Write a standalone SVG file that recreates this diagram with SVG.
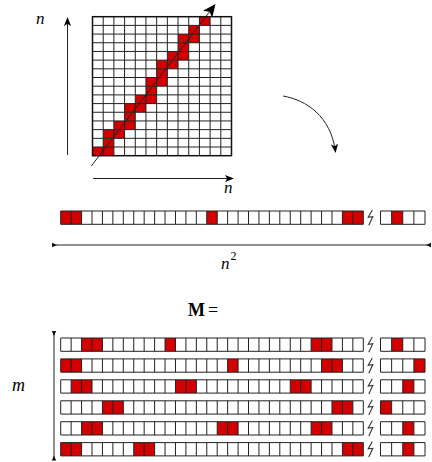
<svg xmlns="http://www.w3.org/2000/svg" xmlns:xlink="http://www.w3.org/1999/xlink" width="432" height="462" viewBox="0 0 432 462">
<style>
.red{fill:#d20000}
.ln{fill:none;stroke:#222;stroke-width:1}
.ax{fill:none;stroke:#222;stroke-width:1}
.lbl{font-family:"Liberation Serif","DejaVu Serif",serif;font-style:italic;fill:#000}
.brk{fill:none;stroke:#333;stroke-width:1.1}
.tri{fill:#111}
</style>
<defs>
<marker id="ah" viewBox="0 0 10 10" refX="9" refY="5" markerWidth="9" markerHeight="9" orient="auto" markerUnits="userSpaceOnUse"><path d="M0,1 L10,5 L0,9 L2.5,5 Z" fill="#000"/></marker>
<marker id="ahBig" viewBox="0 0 10 10" refX="9" refY="5" markerWidth="13" markerHeight="13" orient="auto" markerUnits="userSpaceOnUse"><path d="M0,0.5 L10,5 L0,9.5 L2.5,5 Z" fill="#000"/></marker>
<path id="cells" class="ln" d="M60.7,0H363.3V13.3H60.7Z M71.13,0V13.3 M81.57,0V13.3 M92,0V13.3 M102.44,0V13.3 M112.87,0V13.3 M123.3,0V13.3 M133.74,0V13.3 M144.17,0V13.3 M154.61,0V13.3 M165.04,0V13.3 M175.47,0V13.3 M185.91,0V13.3 M196.34,0V13.3 M206.78,0V13.3 M217.21,0V13.3 M227.64,0V13.3 M238.08,0V13.3 M248.51,0V13.3 M258.95,0V13.3 M269.38,0V13.3 M279.81,0V13.3 M290.25,0V13.3 M300.68,0V13.3 M311.12,0V13.3 M321.55,0V13.3 M331.98,0V13.3 M342.42,0V13.3 M352.85,0V13.3"/>
<path id="cells4" class="ln" d="M380.5,0H425V13.3H380.5Z M391.63,0V13.3 M402.75,0V13.3 M413.88,0V13.3"/>
<path id="brk" class="brk" d="M372.3,-1 L368.2,6.3 L372.8,5.7 L368.8,14.3"/>
</defs>

<g id="grid">
<rect x="92.5" y="16.7" width="139" height="139" fill="#fff"/>
<rect class="red" x="199.42" y="16.7" width="10.69" height="8.69"/>
<rect class="red" x="188.73" y="25.39" width="10.69" height="8.69"/>
<rect class="red" x="178.04" y="34.08" width="21.38" height="8.69"/>
<rect class="red" x="178.04" y="42.76" width="10.69" height="8.69"/>
<rect class="red" x="167.35" y="51.45" width="21.38" height="8.69"/>
<rect class="red" x="156.65" y="60.14" width="21.38" height="8.69"/>
<rect class="red" x="156.65" y="68.83" width="10.69" height="8.69"/>
<rect class="red" x="145.96" y="77.51" width="21.38" height="8.69"/>
<rect class="red" x="145.96" y="86.2" width="10.69" height="8.69"/>
<rect class="red" x="135.27" y="94.89" width="21.38" height="8.69"/>
<rect class="red" x="124.58" y="103.58" width="21.38" height="8.69"/>
<rect class="red" x="124.58" y="112.26" width="10.69" height="8.69"/>
<rect class="red" x="113.88" y="120.95" width="21.38" height="8.69"/>
<rect class="red" x="103.19" y="129.64" width="21.38" height="8.69"/>
<rect class="red" x="103.19" y="138.33" width="10.69" height="8.69"/>
<rect class="red" x="92.5" y="147.01" width="21.38" height="8.69"/>
<path class="ln" d="M103.19,16.7V155.7 M113.88,16.7V155.7 M124.58,16.7V155.7 M135.27,16.7V155.7 M145.96,16.7V155.7 M156.65,16.7V155.7 M167.35,16.7V155.7 M178.04,16.7V155.7 M188.73,16.7V155.7 M199.42,16.7V155.7 M210.12,16.7V155.7 M220.81,16.7V155.7 M92.5,25.39H231.5 M92.5,34.08H231.5 M92.5,42.76H231.5 M92.5,51.45H231.5 M92.5,60.14H231.5 M92.5,68.83H231.5 M92.5,77.51H231.5 M92.5,86.2H231.5 M92.5,94.89H231.5 M92.5,103.58H231.5 M92.5,112.26H231.5 M92.5,120.95H231.5 M92.5,129.64H231.5 M92.5,138.33H231.5 M92.5,147.01H231.5"/>
<rect x="92.5" y="16.7" width="139" height="139" fill="none" stroke="#111" stroke-width="1.5"/>
</g>

<g id="strip">
<rect class="red" x="60.7" y="211" width="20.87" height="13.3"/>
<rect class="red" x="206.78" y="211" width="10.43" height="13.3"/>
<rect class="red" x="342.42" y="211" width="20.87" height="13.3"/>
<rect class="red" x="391.63" y="211" width="11.12" height="13.3"/>
<use xlink:href="#cells" href="#cells" y="211"/>
<use xlink:href="#cells4" href="#cells4" y="211"/>
<use xlink:href="#brk" href="#brk" y="211"/>
</g>

<g id="row1">
<rect class="red" x="81.57" y="338" width="20.87" height="13.3"/>
<rect class="red" x="165.04" y="338" width="10.43" height="13.3"/>
<rect class="red" x="311.12" y="338" width="20.87" height="13.3"/>
<rect class="red" x="391.63" y="338" width="11.12" height="13.3"/>
<use xlink:href="#cells" href="#cells" y="338"/>
<use xlink:href="#cells4" href="#cells4" y="338"/>
<use xlink:href="#brk" href="#brk" y="338"/>
</g>
<g id="row2">
<rect class="red" x="60.7" y="358.9" width="20.87" height="13.3"/>
<rect class="red" x="227.64" y="358.9" width="10.43" height="13.3"/>
<rect class="red" x="321.55" y="358.9" width="20.87" height="13.3"/>
<rect class="red" x="413.88" y="358.9" width="11.12" height="13.3"/>
<use xlink:href="#cells" href="#cells" y="358.9"/>
<use xlink:href="#cells4" href="#cells4" y="358.9"/>
<use xlink:href="#brk" href="#brk" y="358.9"/>
</g>
<g id="row3">
<rect class="red" x="71.13" y="379.8" width="20.87" height="13.3"/>
<rect class="red" x="175.47" y="379.8" width="20.87" height="13.3"/>
<rect class="red" x="290.25" y="379.8" width="20.87" height="13.3"/>
<rect class="red" x="402.75" y="379.8" width="11.12" height="13.3"/>
<use xlink:href="#cells" href="#cells" y="379.8"/>
<use xlink:href="#cells4" href="#cells4" y="379.8"/>
<use xlink:href="#brk" href="#brk" y="379.8"/>
</g>
<g id="row4">
<rect class="red" x="102.44" y="400.8" width="20.87" height="13.3"/>
<rect class="red" x="331.98" y="400.8" width="20.87" height="13.3"/>
<rect class="red" x="380.5" y="400.8" width="11.12" height="13.3"/>
<use xlink:href="#cells" href="#cells" y="400.8"/>
<use xlink:href="#cells4" href="#cells4" y="400.8"/>
<use xlink:href="#brk" href="#brk" y="400.8"/>
</g>
<g id="row5">
<rect class="red" x="81.57" y="421.7" width="20.87" height="13.3"/>
<rect class="red" x="217.21" y="421.7" width="20.87" height="13.3"/>
<rect class="red" x="311.12" y="421.7" width="20.87" height="13.3"/>
<rect class="red" x="402.75" y="421.7" width="11.12" height="13.3"/>
<use xlink:href="#cells" href="#cells" y="421.7"/>
<use xlink:href="#cells4" href="#cells4" y="421.7"/>
<use xlink:href="#brk" href="#brk" y="421.7"/>
</g>
<g id="row6">
<rect class="red" x="60.7" y="442.6" width="20.87" height="13.3"/>
<rect class="red" x="133.74" y="442.6" width="20.87" height="13.3"/>
<rect class="red" x="342.42" y="442.6" width="20.87" height="13.3"/>
<rect class="red" x="402.75" y="442.6" width="11.12" height="13.3"/>
<use xlink:href="#cells" href="#cells" y="442.6"/>
<use xlink:href="#cells4" href="#cells4" y="442.6"/>
<use xlink:href="#brk" href="#brk" y="442.6"/>
</g>

<g id="connectors">
<line class="ax" x1="91.3" y1="166" x2="214.7" y2="5" marker-end="url(#ahBig)"/>
<line class="ax" x1="67.5" y1="155" x2="67.5" y2="18" marker-end="url(#ah)"/>
<line class="ax" x1="93" y1="178.5" x2="233" y2="178.5" marker-end="url(#ah)"/>
<path class="ax" d="M283,96 C306,100 331,116 335.5,152" marker-end="url(#ah)"/>
<line class="ax" x1="52" y1="245" x2="431" y2="245"/>
<polygon class="tri" points="52,242.8 52,247.2 57,245"/>
<polygon class="tri" points="431,242.8 431,247.2 426,245"/>
<line class="ax" x1="54" y1="331" x2="54" y2="460.5"/>
<polygon class="tri" points="51.8,331 56.2,331 54,336"/>
<polygon class="tri" points="51.8,460.5 56.2,460.5 54,455.5"/>
</g>

<g id="labels">
<text class="lbl" x="36" y="24" font-size="17">n</text>
<text class="lbl" x="224" y="193" font-size="17">n</text>
<text class="lbl" x="221" y="269" font-size="17">n<tspan font-size="12" font-style="normal" dx="1" dy="-9">2</tspan></text>
<text x="188" y="315.5" font-family="Liberation Serif, DejaVu Serif, serif" font-size="18" fill="#000"><tspan font-weight="bold">M</tspan><tspan dx="3">=</tspan></text>
<text class="lbl" x="12" y="391" font-size="18">m</text>
</g>
</svg>
